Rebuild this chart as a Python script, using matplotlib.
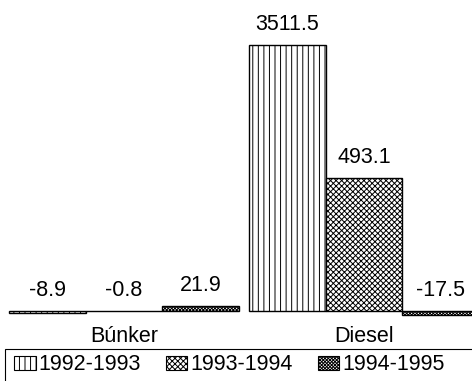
import numpy as np
import matplotlib.pyplot as plt
from matplotlib.patches import Patch, Rectangle
from matplotlib.transforms import blended_transform_factory

# Datos (variación porcentual por combustible)
categorias = ['Búnker', 'Diesel']
periodos = ['1992-1993', '1993-1994', '1994-1995']
v_9293 = [-8.9, 3511.5]
v_9394 = [-0.8, 493.1]
v_9495 = [21.9, -17.5]

series = [v_9293, v_9394, v_9495]
tramas = ['|||', 'xxxxxx', 'xxxxxxxxxx']

plt.rcParams['font.family'] = ['Liberation Sans', 'DejaVu Sans']
plt.rcParams['hatch.linewidth'] = 0.7

fig = plt.figure(figsize=(4.72, 3.81), dpi=100)
ax = fig.add_axes([0, 51 / 381, 1, 330 / 381])

x = np.arange(len(categorias))
ancho = 0.32
fs = 15.5

for i, (vals, trama) in enumerate(zip(series, tramas)):
    pos = x + (i - 1) * ancho
    ax.bar(pos, vals, ancho, facecolor='white', edgecolor='black',
           hatch=trama, linewidth=1.0)
    # Etiquetas de valor sobre cada barra
    for px, v in zip(pos, vals):
        ax.annotate(f"{v:.1f}", xy=(px, max(v, 0)), xytext=(0, 7),
                    textcoords='offset points', ha='center', va='bottom',
                    fontsize=fs)

# Escala no lineal como en el original
ax.set_yscale('symlog', linthresh=100, linscale=0.143)
ax.set_ylim(-76.6, 6833)
ax.set_xlim(-124 / 240, 348 / 240)
ax.axis('off')

# Nombres de categoría bajo el eje
trans = blended_transform_factory(ax.transData, fig.transFigure)
for xi, cat in zip(x, categorias):
    fig.text(xi, 1 - 337 / 381, cat, transform=trans, ha='center',
             va='center', fontsize=fs)

# Leyenda con marco recortado por el borde
fig.patches.append(Rectangle((5 / 472, -0.1), 1.2, 0.1 + 32 / 381,
                             transform=fig.transFigure, facecolor='none',
                             edgecolor='black', linewidth=0.8))
manejadores = [Patch(facecolor='white', edgecolor='black', hatch=t,
                     linewidth=0.8) for t in tramas]
fig.legend(manejadores, periodos, loc='center left',
           bbox_to_anchor=(14 / 472, 1 - 365 / 381), ncol=3, frameon=False,
           fontsize=fs, borderpad=0, borderaxespad=0, handlelength=1.0,
           handleheight=0.65, handletextpad=0.15, columnspacing=1.15)

fig.savefig('out.png', dpi=100)
